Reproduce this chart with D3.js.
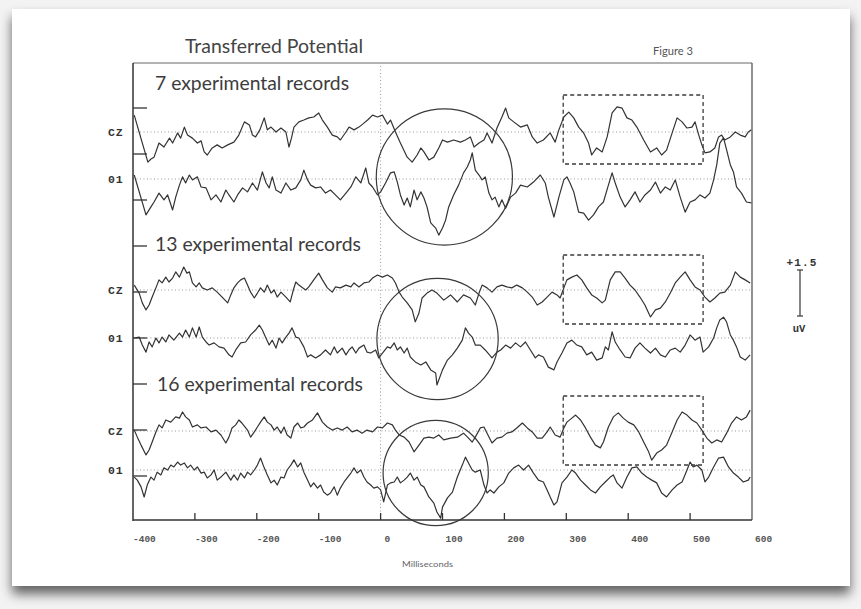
<!DOCTYPE html>
<html><head><meta charset="utf-8">
<script src="https://cdn.jsdelivr.net/npm/d3@7"></script>
<style>
html,body{margin:0;padding:0;background:#f3f3f3;}
svg{display:block;}
</style></head><body>
<svg id="chart" width="861" height="609"></svg>
<script>
// ---------- data (time in ms, amplitude in µV) ----------
const timeDomain = [-400, 600];
const xTickValues = [-400, -300, -200, -100, 0, 100, 200, 300, 400, 500, 600];
const blockLabels = ["7 experimental records", "13 experimental records", "16 experimental records"];
const channelNames = ["CZ", "01"];
const calibration = 1.5;              // µV scale bar
const highlightWindow = [295, 521];   // ms, dashed boxes
const circleCentersMs = [103, 92, 89];
const circleRadiiMs = [110, 98, 85];

const cz7 = [[-398,0.55],[-376,-0.98],[-371,-0.88],[-366,-0.82],[-358,-0.36],[-350,-0.49],[-341,-0.2],[-336,-0.36],[-328,-0.03],[-323,-0.2],[-317,0.16],[-312,-0.1],[-304,-0.2],[-296,-0.36],[-290,-0.29],[-285,-0.65],[-280,-0.75],[-272,-0.52],[-264,-0.42],[-256,-0.52],[-247,-0.42],[-237,-0.33],[-229,-0.1],[-220,0.33],[-212,0.23],[-207,-0.1],[-202,-0.16],[-195,0.07],[-188,0.46],[-183,0.07],[-177,0.16],[-169,0],[-161,0.13],[-153,0],[-148,-0.49],[-144,-0.2],[-140,0.16],[-132,0.33],[-124,0.39],[-116,0.46],[-108,0.49],[-100,0.62],[-94,0.39],[-86,0.16],[-78,-0.1],[-70,-0.16],[-65,-0.26],[-56,0],[-51,0.16],[-43,0.07],[-35,0.16],[-27,0.29],[-21,0.39],[-13,0.55],[-5,0.49],[3,0.55],[11,0.26],[16,0.39],[24,0],[32,-0.36],[43,-0.82],[51,-0.98],[59,-0.75],[65,-0.52],[70,-0.65],[78,-0.91],[86,-0.82],[94,-0.52],[100,-0.26],[108,-0.33],[118,-0.26],[129,-0.33],[137,-0.26],[145,-0.16],[151,-0.49],[159,-0.36],[167,-0.26],[172,-0.03],[180,-0.36],[188,0.13],[196,0.49],[202,0.78],[207,0.46],[215,0.33],[226,0.16],[237,0.23],[245,-0.16],[253,-0.36],[263,-0.26],[274,-0.03],[282,-0.33],[288,0.07],[296,0.49],[304,0.65],[312,0.46],[320,0.16],[328,-0.03],[336,-0.36],[341,-0.75],[349,-0.52],[358,-0.65],[366,-0.16],[374,0.62],[382,0.82],[390,0.78],[398,0.46],[406,0.39],[414,0.16],[425,-0.26],[436,-0.65],[446,-0.52],[454,-0.75],[462,-0.59],[471,-0.03],[479,0.46],[487,0.33],[495,0.13],[503,0.16],[508,0.33],[514,-0.1],[519,-0.42],[524,-0.68],[532,-0.65],[540,-0.52],[546,-0.16],[551,-0.1],[556,-0.26],[565,-0.16],[573,0],[581,-0.1],[589,-0.16],[594,0],[599,0.07]];

const o1_7 = [[-398,0.13],[-379,-1.17],[-371,-0.91],[-366,-0.75],[-358,-0.46],[-350,-0.68],[-344,-0.52],[-336,-1.01],[-331,-0.59],[-325,-0.2],[-320,0.07],[-315,-0.13],[-309,0.13],[-304,-0.03],[-296,0.07],[-290,-0.26],[-282,-0.29],[-274,-0.68],[-266,-0.52],[-258,-0.75],[-250,-0.36],[-245,-0.52],[-237,-0.75],[-231,-0.52],[-223,-0.29],[-215,-0.42],[-207,-0.13],[-199,-0.36],[-191,0.23],[-185,-0.13],[-180,-0.29],[-175,0.07],[-169,-0.36],[-161,-0.46],[-153,-0.13],[-145,-0.36],[-137,-0.29],[-129,-0.03],[-124,0.29],[-118,-0.03],[-113,-0.2],[-105,-0.29],[-97,-0.26],[-89,-0.46],[-81,-0.36],[-73,-0.52],[-65,-0.68],[-56,-0.46],[-48,-0.26],[-40,0.07],[-32,-0.13],[-24,0.36],[-19,-0.13],[-13,-0.26],[-5,-0.52],[0,-0.42],[8,-0.13],[16,0.2],[22,0.23],[27,-0.1],[32,-0.52],[38,-0.85],[43,-0.62],[48,-0.91],[54,-0.36],[59,-0.68],[65,-0.42],[70,-0.62],[75,-0.91],[81,-1.43],[89,-1.6],[94,-1.83],[100,-1.6],[105,-1.34],[110,-0.91],[118,-0.52],[126,-0.2],[134,0.2],[140,0.39],[145,0.62],[148,0.85],[153,0.29],[159,0.13],[164,-0.03],[169,0.07],[175,-0.46],[180,-0.68],[185,-0.59],[191,-0.91],[196,-0.68],[202,-0.95],[210,-0.59],[218,-0.46],[226,-0.2],[237,-0.26],[247,-0.1],[258,0.13],[266,-0.13],[271,-0.59],[280,-1.24],[288,-0.59],[296,-0.03],[301,0.07],[306,-0.13],[312,-0.42],[320,-1.08],[328,-1.11],[336,-1.34],[344,-1.17],[352,-0.91],[360,-0.75],[368,-0.2],[374,0.2],[379,-0.13],[387,-0.59],[395,-0.91],[403,-0.68],[411,-0.42],[419,-0.75],[427,-0.52],[436,-0.36],[444,-0.1],[452,-0.46],[460,-0.26],[468,-0.36],[476,-0.03],[484,-0.59],[492,-1.08],[500,-0.75],[508,-0.68],[516,-0.52],[524,-0.62],[532,-0.46],[538,-0.03],[543,0.46],[548,1.17],[554,1.34],[559,0.95],[565,0.46],[570,0.23],[575,-0.26],[583,-0.46],[591,-0.75],[599,-0.78]];

const cz13 = [[-398,0.16],[-390,-0.1],[-385,-0.42],[-379,-0.65],[-374,-0.49],[-369,-0.23],[-363,0.07],[-358,0.33],[-353,0.23],[-347,0.42],[-342,0.26],[-336,0.39],[-331,0.59],[-325,0.42],[-318,0.75],[-313,0.55],[-309,0.59],[-304,0.23],[-298,0.1],[-293,0.23],[-288,0.07],[-280,0],[-272,0.07],[-264,-0.07],[-256,-0.23],[-247,-0.42],[-242,-0.16],[-237,0.07],[-231,0.23],[-226,0.33],[-220,0.39],[-215,0.16],[-210,-0.07],[-204,-0.26],[-199,-0.1],[-194,0.07],[-188,-0.07],[-183,0.16],[-177,-0.1],[-172,0],[-167,-0.23],[-161,-0.07],[-153,-0.23],[-146,-0.39],[-141,0],[-137,0.26],[-132,0.16],[-126,0.07],[-121,0],[-116,0.1],[-108,0.33],[-100,0.55],[-94,0.33],[-86,0.07],[-78,-0.07],[-73,0.1],[-65,0.07],[-56,0.16],[-48,0.1],[-43,0.23],[-35,0.1],[-27,0.23],[-19,0.26],[-13,0.39],[-5,0.49],[3,0.42],[11,0.49],[19,0.39],[24,0.23],[30,-0.07],[35,-0.23],[43,-0.42],[51,-0.65],[56,-1.04],[62,-0.75],[67,-0.26],[75,-0.1],[83,0],[91,-0.1],[102,-0.33],[113,-0.16],[124,-0.39],[134,-0.16],[145,-0.26],[153,-0.49],[159,-0.1],[164,0.16],[172,0.07],[180,-0.07],[188,0.1],[196,0.16],[204,0.1],[212,0.07],[220,0.16],[229,0.07],[237,-0.07],[245,-0.23],[253,-0.49],[261,-0.39],[269,-0.23],[277,-0.07],[285,-0.16],[290,-0.26],[296,0.07],[301,0.33],[309,0.42],[317,0.49],[325,0.33],[333,0.07],[341,-0.16],[349,-0.26],[358,-0.42],[363,-0.33],[371,0.33],[379,0.59],[387,0.59],[395,0.39],[403,0.16],[411,0],[419,-0.23],[427,-0.49],[436,-0.88],[444,-0.65],[452,-0.59],[460,-0.39],[468,-0.1],[476,0.23],[484,0.42],[492,0.59],[500,0.33],[508,0.1],[516,0],[524,-0.23],[532,-0.39],[540,-0.26],[548,-0.1],[556,-0.07],[565,0.16],[573,0.59],[581,0.42],[589,0.33],[597,0.23]];

const o1_13 = [[-398,0],[-390,0.03],[-385,-0.23],[-379,-0.46],[-374,-0.13],[-369,-0.29],[-363,0],[-358,-0.16],[-353,0.03],[-347,-0.13],[-342,0.1],[-334,-0.07],[-325,0.16],[-320,0.03],[-315,0.26],[-309,0.03],[-304,0.33],[-298,0.03],[-293,0.36],[-288,0.03],[-282,-0.13],[-277,-0.23],[-269,-0.16],[-261,-0.29],[-253,-0.33],[-245,-0.55],[-240,-0.62],[-234,-0.39],[-226,-0.16],[-218,-0.13],[-210,0.1],[-202,0.26],[-196,0.42],[-191,0.26],[-186,0.03],[-180,-0.23],[-175,-0.07],[-169,-0.33],[-164,0],[-159,-0.16],[-153,0.03],[-148,0.16],[-143,0.33],[-137,0.03],[-132,0],[-124,-0.29],[-118,-0.62],[-113,-0.55],[-105,-0.65],[-97,-0.55],[-89,-0.39],[-81,-0.55],[-75,-0.29],[-70,-0.49],[-62,-0.33],[-56,-0.55],[-51,-0.39],[-46,-0.29],[-40,-0.49],[-35,-0.33],[-27,-0.23],[-22,-0.46],[-16,-0.49],[-8,-0.39],[-3,-0.65],[3,-0.49],[11,-0.29],[16,-0.33],[22,-0.16],[27,-0.39],[32,-0.29],[38,-0.49],[43,-0.33],[48,-0.62],[56,-0.78],[65,-0.88],[73,-0.78],[81,-1.04],[89,-1.14],[91,-1.53],[100,-1.04],[108,-0.72],[116,-0.55],[124,-0.33],[132,-0.07],[137,0.33],[142,0.16],[148,0.03],[153,-0.23],[161,-0.23],[169,-0.39],[180,-0.65],[188,-0.46],[194,-0.39],[202,-0.23],[210,-0.33],[218,-0.16],[226,-0.29],[234,-0.13],[242,-0.39],[250,-0.65],[255,-0.55],[263,-0.62],[271,-0.95],[280,-1.04],[285,-0.78],[293,-0.49],[301,-0.16],[309,-0.07],[317,-0.23],[325,-0.29],[333,-0.55],[341,-0.46],[349,-0.72],[358,-0.65],[363,-0.29],[368,-0.39],[374,0.2],[379,-0.13],[387,-0.39],[395,-0.62],[403,-0.65],[411,-0.33],[419,-0.16],[427,-0.33],[436,-0.49],[444,-0.33],[452,-0.55],[460,-0.62],[468,-0.39],[476,-0.33],[484,-0.46],[492,-0.23],[500,0.1],[508,-0.07],[516,0.03],[521,-0.46],[530,-0.29],[538,0],[543,0.33],[548,0.59],[554,0.68],[559,0.52],[565,0.1],[570,-0.07],[575,-0.29],[581,-0.62],[589,-0.72],[597,-0.55]];

const cz16 = [[-398,0.03],[-393,-0.2],[-387,-0.46],[-379,-0.78],[-374,-0.62],[-369,-0.36],[-363,-0.03],[-358,0.2],[-353,0.1],[-347,0.36],[-339,0.29],[-331,0.46],[-325,0.42],[-320,0.62],[-315,0.46],[-309,0.36],[-304,0.13],[-296,0.2],[-290,0.1],[-282,0.13],[-274,-0.03],[-266,0.03],[-258,-0.13],[-250,-0.39],[-245,-0.2],[-240,0.1],[-234,0.2],[-229,0.36],[-224,0.26],[-215,0.03],[-210,-0.2],[-204,-0.03],[-199,0.13],[-194,0.29],[-188,0.46],[-183,0.29],[-177,0.2],[-172,0.03],[-167,0.13],[-161,-0.07],[-156,0.13],[-151,-0.13],[-145,-0.23],[-140,0.13],[-134,0.26],[-129,0.1],[-124,0.13],[-118,0.26],[-110,0.36],[-102,0.59],[-94,0.29],[-86,0.13],[-78,0.03],[-70,0.1],[-62,0.03],[-54,0.13],[-46,-0.03],[-38,0.03],[-30,-0.07],[-22,0.03],[-13,-0.03],[-5,0.13],[3,0.1],[11,0.26],[19,0.2],[24,0.03],[30,-0.13],[38,-0.2],[46,-0.36],[54,-0.68],[62,-0.46],[70,-0.23],[78,-0.2],[86,-0.23],[94,-0.13],[102,-0.29],[113,-0.23],[124,-0.2],[134,-0.07],[142,-0.23],[148,-0.36],[153,-0.2],[161,0.1],[167,0.13],[172,-0.07],[180,-0.39],[188,-0.23],[196,-0.2],[204,-0.07],[212,-0.03],[220,0.1],[229,0.26],[237,0.1],[245,-0.03],[253,-0.23],[261,-0.23],[269,-0.03],[274,0.13],[282,-0.13],[290,-0.2],[296,0.1],[301,0.29],[309,0.42],[315,0.52],[323,0.36],[331,0.1],[339,-0.2],[347,-0.46],[355,-0.55],[360,-0.36],[368,0.13],[376,0.46],[384,0.59],[392,0.42],[400,0.29],[409,0.2],[417,-0.03],[425,-0.36],[433,-0.68],[438,-0.95],[446,-0.72],[454,-0.62],[462,-0.46],[471,-0.03],[479,0.36],[487,0.62],[495,0.52],[503,0.36],[511,0.26],[519,0.03],[527,-0.23],[535,-0.39],[543,-0.29],[551,-0.36],[559,-0.07],[567,0.26],[575,0.46],[583,0.36],[591,0.46],[597,0.68]];

const o1_16 = [[-398,-0.23],[-393,-0.33],[-387,-0.55],[-382,-0.88],[-377,-0.49],[-371,-0.23],[-366,-0.33],[-361,-0.07],[-355,-0.16],[-350,0.07],[-344,0],[-339,0.16],[-334,0.1],[-328,0.26],[-323,0.16],[-317,0.23],[-312,0.07],[-307,0.16],[-301,0],[-296,0.1],[-290,-0.1],[-285,-0.07],[-280,-0.26],[-274,-0.16],[-269,0],[-264,-0.33],[-258,-0.23],[-250,-0.07],[-242,-0.33],[-237,-0.16],[-231,-0.33],[-226,-0.1],[-220,-0.26],[-215,-0.07],[-210,-0.16],[-204,0],[-199,0.16],[-194,0.39],[-188,0.07],[-183,-0.16],[-177,-0.42],[-172,-0.33],[-167,-0.49],[-161,-0.23],[-156,-0.26],[-151,0],[-145,0.16],[-140,0.33],[-134,0.1],[-129,0.23],[-124,-0.07],[-118,-0.33],[-113,-0.55],[-108,-0.42],[-102,-0.59],[-97,-0.49],[-92,-0.72],[-86,-0.82],[-81,-0.75],[-75,-0.55],[-70,-0.82],[-65,-0.59],[-59,-0.39],[-54,-0.26],[-48,-0.1],[-43,0.07],[-38,-0.1],[-32,0],[-27,-0.23],[-22,-0.39],[-16,-0.49],[-11,-0.59],[-5,-0.55],[0,-0.65],[5,-1.04],[11,-0.49],[16,-0.42],[22,-0.39],[27,-0.23],[32,-0.42],[38,-0.33],[43,-0.23],[48,-0.1],[54,-0.33],[59,-0.23],[65,-0.49],[70,-0.55],[78,-0.88],[86,-1.08],[91,-1.37],[97,-1.57],[100,-1.21],[108,-0.91],[116,-0.72],[124,-0.23],[132,0.16],[137,0.42],[142,0.23],[148,0],[153,-0.07],[161,0],[167,-0.49],[172,-0.75],[177,-0.65],[183,-0.75],[191,-0.55],[199,-0.42],[207,-0.1],[215,0.07],[223,0.16],[231,0],[239,0.16],[247,-0.1],[255,-0.33],[263,-0.39],[269,-0.65],[274,-0.88],[280,-1.14],[285,-1.04],[293,-0.42],[301,-0.23],[309,0],[315,-0.1],[323,-0.33],[331,-0.49],[339,-0.65],[347,-0.75],[355,-0.55],[363,-0.39],[371,-0.23],[376,-0.16],[382,-0.42],[390,-0.59],[398,-0.23],[406,0.07],[414,0.1],[422,-0.1],[430,-0.23],[438,-0.33],[446,-0.42],[454,-0.75],[462,-0.88],[471,-0.65],[479,-0.49],[487,-0.39],[495,0],[500,0.26],[505,0.1],[511,0.16],[519,0],[524,-0.39],[530,-0.23],[538,0.1],[546,0.39],[554,0.42],[562,0.1],[570,-0.1],[578,-0.23],[586,-0.39],[594,-0.33],[597,-0.23]];

const blockSeries = [[cz7, o1_7], [cz13, o1_13], [cz16, o1_16]];

// ---------- layout ----------
const plot = {left: 133, right: 752, top: 63, bottom: 520};
const blocks = [
  {base: [132, 179], labelY: 90, boxTop: 95, circleY: 177},
  {base: [290, 338], labelY: 251, boxTop: 255, circleY: 339},
  {base: [431, 470], labelY: 391, boxTop: 396, circleY: 473}
];
const ink = "#333";

const svg = d3.select("#chart");
const defs = svg.append("defs");
const flt = defs.append("filter").attr("id", "shadow")
  .attr("x", "-5%").attr("y", "-5%").attr("width", "110%").attr("height", "115%");
flt.append("feDropShadow").attr("dx", 0).attr("dy", 8).attr("stdDeviation", 6)
  .attr("flood-color", "#000").attr("flood-opacity", 0.6);

// paper
svg.append("rect").attr("x", 12).attr("y", 9).attr("width", 838).attr("height", 577)
  .attr("fill", "#ffffff").attr("filter", "url(#shadow)");

const x = d3.scaleLinear().domain(timeDomain).range([plot.left, plot.right]);
const ampPx = 46; // px for the calibration amplitude
const yFor = base => d3.scaleLinear().domain([-calibration, calibration]).range([base + ampPx, base - ampPx]);

// title texts
svg.append("text").attr("x", 185).attr("y", 53)
  .attr("font-family", "Lato, 'Open Sans', sans-serif").attr("font-size", 19)
  .attr("textLength", 178).attr("lengthAdjust", "spacingAndGlyphs")
  .attr("fill", "#444").text("Transferred Potential");
svg.append("text").attr("x", 653).attr("y", 55)
  .attr("font-family", "Lato, 'Open Sans', sans-serif").attr("font-size", 11)
  .attr("textLength", 40).attr("lengthAdjust", "spacingAndGlyphs")
  .attr("fill", "#555").text("Figure 3");

// dotted zero line
svg.append("line").attr("x1", x(0)).attr("x2", x(0)).attr("y1", plot.top + 3).attr("y2", plot.bottom)
  .attr("stroke", "#9a9a9a").attr("stroke-width", 1).attr("stroke-dasharray", "1,2.5");

// blocks
const line = d3.line();
blocks.forEach((b, i) => {
  svg.append("text").attr("x", i === 2 ? 157 : 155).attr("y", b.labelY)
    .attr("font-family", "Lato, 'Open Sans', sans-serif").attr("font-size", 19)
    .attr("textLength", i === 0 ? 194 : 206).attr("lengthAdjust", "spacingAndGlyphs")
    .attr("fill", "#3c3c3c").text(blockLabels[i]);

  blockSeries[i].forEach((series, c) => {
    const y = yFor(b.base[c]);
    svg.append("line").attr("x1", plot.left).attr("x2", plot.right)
      .attr("y1", y(0)).attr("y2", y(0))
      .attr("stroke", "#9a9a9a").attr("stroke-width", 1).attr("stroke-dasharray", "1,2.5");
    svg.append("text").attr("x", 108).attr("y", y(0) + 4)
      .attr("font-family", "'Liberation Mono', 'DejaVu Sans Mono', monospace")
      .attr("font-weight", "bold").attr("font-size", 11.5).attr("letter-spacing", 0.8)
      .attr("fill", "#333").text(channelNames[c]);
    svg.append("path").datum(series)
      .attr("d", line.x(d => x(d[0])).y(d => y(d[1])))
      .attr("fill", "none").attr("stroke", ink).attr("stroke-width", 1.2)
      .attr("stroke-linejoin", "round");
  });

  svg.append("rect").attr("x", x(highlightWindow[0])).attr("y", b.boxTop)
    .attr("width", x(highlightWindow[1]) - x(highlightWindow[0])).attr("height", 69)
    .attr("fill", "none").attr("stroke", "#3a3a3a").attr("stroke-width", 1.3)
    .attr("stroke-dasharray", "4,3");

  svg.append("circle").attr("cx", x(circleCentersMs[i])).attr("cy", b.circleY)
    .attr("r", x(circleCentersMs[i] + circleRadiiMs[i]) - x(circleCentersMs[i]))
    .attr("fill", "none").attr("stroke", "#3a3a3a").attr("stroke-width", 1.2);
});

// frame
svg.append("line").attr("x1", plot.left).attr("x2", plot.right).attr("y1", plot.top).attr("y2", plot.top)
  .attr("stroke", "#666").attr("stroke-width", 1);
svg.append("line").attr("x1", plot.right).attr("x2", plot.right).attr("y1", plot.top).attr("y2", plot.bottom)
  .attr("stroke", "#555").attr("stroke-width", 1.3);
svg.append("line").attr("x1", plot.left).attr("x2", plot.left).attr("y1", plot.top).attr("y2", plot.bottom + 1)
  .attr("stroke", "#333").attr("stroke-width", 1.5);
svg.append("line").attr("x1", plot.left).attr("x2", plot.right).attr("y1", plot.bottom).attr("y2", plot.bottom)
  .attr("stroke", "#333").attr("stroke-width", 1.5);

// left calibration ticks (every 1.5 µV)
const yCal = d3.scaleLinear().domain([0, calibration]).range([0, ampPx]);
d3.range(9).forEach(k => {
  const yy = 108 + yCal(calibration * k);
  svg.append("line").attr("x1", plot.left).attr("x2", plot.left + 14).attr("y1", yy).attr("y2", yy)
    .attr("stroke", "#333").attr("stroke-width", 1.3);
});

// bottom ticks & labels
xTickValues.forEach(v => {
  if (v !== timeDomain[0] && v !== timeDomain[1]) {
    svg.append("line").attr("x1", x(v)).attr("x2", x(v)).attr("y1", plot.bottom).attr("y2", plot.bottom - 7)
      .attr("stroke", "#333").attr("stroke-width", 1.3);
  }
  svg.append("text").attr("x", x(v) + (v < 0 ? 0 : (v === 0 ? 4 : 3))).attr("y", 542)
    .attr("font-family", "'Liberation Mono', 'DejaVu Sans Mono', monospace")
    .attr("font-weight", "bold").attr("font-size", 9.5)
    .attr("fill", "#555").text(v);
});
svg.append("text").attr("x", 402).attr("y", 567)
  .attr("font-family", "Lato, 'Open Sans', sans-serif").attr("font-size", 8)
  .attr("textLength", 51).attr("lengthAdjust", "spacingAndGlyphs")
  .attr("fill", "#666").text("Milliseconds");

// scale bar
const sbX = 800, sbTop = 270;
svg.append("line").attr("x1", sbX).attr("x2", sbX).attr("y1", sbTop).attr("y2", sbTop + yCal(calibration))
  .attr("stroke", "#444").attr("stroke-width", 1.3);
[sbTop, sbTop + yCal(calibration)].forEach(yy =>
  svg.append("line").attr("x1", sbX - 3).attr("x2", sbX + 3).attr("y1", yy).attr("y2", yy)
    .attr("stroke", "#444").attr("stroke-width", 1.3));
svg.append("text").attr("x", 802).attr("y", 266).attr("text-anchor", "middle")
  .attr("font-family", "'Liberation Mono', 'DejaVu Sans Mono', monospace")
  .attr("font-weight", "bold").attr("font-size", 11).attr("letter-spacing", 1.2)
  .attr("fill", "#333").text("+" + calibration);
svg.append("text").attr("x", 799).attr("y", 332).attr("text-anchor", "middle")
  .attr("font-family", "'Liberation Mono', 'DejaVu Sans Mono', monospace")
  .attr("font-weight", "bold").attr("font-size", 10.5)
  .attr("fill", "#333").text("uV");
</script>
</body></html>
